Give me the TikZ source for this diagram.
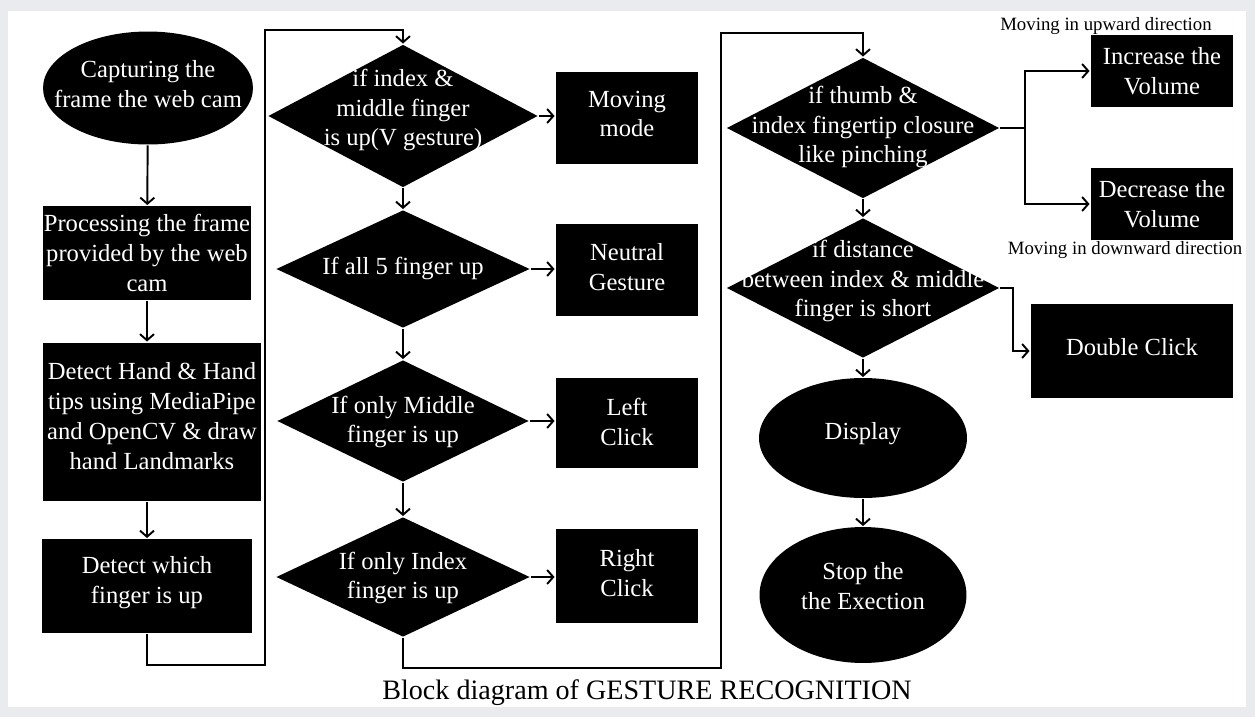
\documentclass[tikz,border=0pt]{standalone}
\usepackage{fontspec}
\setmainfont{Liberation Serif}
\usetikzlibrary{arrows,arrows.meta,shapes.geometric,positioning,calc}
\definecolor{fundo}{RGB}{233,235,238}

\begin{document}
\begin{tikzpicture}[> = {Straight Barb[length=3.5pt,width=8pt]}, x = 0.02cm, y = -0.02cm, line width = 1.1pt]
                       \tikzstyle{bloco}=[rectangle, fill=black, text=white, inner sep=0pt, align=center, font=\fontsize{14}{17}\selectfont]
                       \tikzstyle{oval}=[ellipse, fill=black, inner sep=0pt]
                       \tikzstyle{teste}=[diamond, fill=black, inner sep=0pt]
                       \tikzstyle{texto}=[text=white, inner sep=0pt, align=center, font=\fontsize{14}{17}\selectfont]
                       \tikzstyle{nota}=[inner sep=0pt, font=\fontsize{10.7}{12}\selectfont]

                        % Fundo
                        \useasboundingbox (0,0) rectangle (1255,717);
                        \fill[fundo] (0,0) rectangle (1255,717);
                        \fill[white] (8,11) rectangle (1246,707);

                        % Blocos
                        \node[oval, minimum width=4.2cm, minimum height=2.26cm] (cap) at (148,88) {};
                        \node[texto] (capT) at (148,84) {Capturing the\\frame the web cam};
                        \node[bloco, minimum width=4.18cm, minimum height=1.88cm] (proc) at (147,253) {Processing the frame\\provided by the web\\cam};
                        \node[bloco, minimum width=4.38cm, minimum height=3.18cm] (hand) at (152,422) {};
                        \node[texto] (handT) at (152,416) {Detect Hand \& Hand\\tips using MediaPipe\\and OpenCV \& draw\\hand Landmarks};
                        \node[bloco, minimum width=4.2cm, minimum height=1.88cm] (det) at (147,586) {};
                        \node[texto] (detT) at (147,583) {Detect which\\finger is up};

                        \node[teste, minimum width=5.4cm, minimum height=2.86cm] (d1) at (403,116) {};
                        \node[texto] (d1T) at (403,110) {if index \&\\middle finger\\is up(V gesture)};
                        \node[teste, minimum width=5.08cm, minimum height=2.36cm] (d2) at (403,269) {};
                        \node[texto] (d2T) at (403,268) {If all 5 finger up};
                        \node[teste, minimum width=5.04cm, minimum height=2.44cm] (d3) at (403,421) {};
                        \node[texto] (d3T) at (403,422) {If only Middle\\finger is up};
                        \node[teste, minimum width=5.08cm, minimum height=2.4cm] (d4) at (403,577) {};
                        \node[texto] (d4T) at (403,578) {If only Index\\finger is up};

                        \node[bloco, minimum width=2.86cm, minimum height=1.86cm] (mov) at (627,118) {};
                        \node[texto] (movT) at (627,114) {Moving\\mode};
                        \node[bloco, minimum width=2.86cm, minimum height=1.84cm] (neu) at (627,270) {};
                        \node[texto] (neuT) at (627,267) {Neutral\\Gesture};
                        \node[bloco, minimum width=2.86cm, minimum height=1.82cm] (lft) at (627,423) {};
                        \node[texto] (lftT) at (627,422) {Left\\Click};
                        \node[bloco, minimum width=2.86cm, minimum height=1.88cm] (rgt) at (627,576) {};
                        \node[texto] (rgtT) at (627,573) {Right\\Click};

                        \node[teste, minimum width=5.46cm, minimum height=2.82cm] (d5) at (863,128) {};
                        \node[texto] (d5T) at (863,127) {if thumb \&\\index fingertip closure\\like pinching};
                        \node[teste, minimum width=5.46cm, minimum height=2.8cm] (d6) at (863,288) {};
                        \node[texto] (d6T) at (863,281) {if distance\\between index \& middle\\finger is short};
                        \node[oval, minimum width=4.16cm, minimum height=2.4cm] (disp) at (863,438) {};
                        \node[texto] (dispT) at (863,434) {Display};
                        \node[oval, minimum width=4.14cm, minimum height=2.72cm] (stop) at (863,595) {};
                        \node[texto] (stopT) at (863,586) {Stop the\\the Exection};

                        \node[bloco, minimum width=2.86cm, minimum height=1.44cm] (inc) at (1162,71) {Increase the\\Volume};
                        \node[bloco, minimum width=2.86cm, minimum height=1.46cm] (dec) at (1162,204) {Decrease the\\Volume};
                        \node[bloco, minimum width=4.06cm, minimum height=1.88cm] (dbl) at (1132,351) {};
                        \node[texto] (dblT) at (1132,347) {Double Click};

                        \node[nota] (up) at (1106,26) {Moving in upward direction};
                        \node[nota] (down) at (1125,250) {Moving in downward direction};
                        \node[inner sep=0pt, font=\fontsize{16}{19}\selectfont] (titulo) at (647,693) {Block diagram of GESTURE RECOGNITION};

                        % Ligações
                        \draw[->] (cap) -- (proc);
                        \draw[->] (proc) -- (proc |- hand.north);
                        \draw[->] (hand.south -| det) -- (det);
                        \draw[->] (det.south) -- (det.south |- 0,665) -| (265,30) -| (d1.north);

                        \draw[->] (d1) -- (d2);
                        \draw[->] (d2) -- (d3);
                        \draw[->] (d3) -- (d4);
                        \draw[->] (d1.east) -- (d1.east -| mov.west);
                        \draw[->] (d2.east) -- (d2.east -| neu.west);
                        \draw[->] (d3.east) -- (d3.east -| lft.west);
                        \draw[->] (d4.east) -- (d4.east -| rgt.west);
                        \draw[->] (d4.south) -- (d4.south |- 0,668) -| (721,33) -| (d5.north);

                        \draw[->] (d5) -- (d6);
                        \draw[->] (d6) -- (disp);
                        \draw[->] (disp) -- (stop);
                        \draw[->] (d5.east) -- (1025,128) |- (inc.west);
                        \draw[->] (1025,128) |- (dec.west);
                        \draw[->] (d6.east) -- ++(13,0) |- (dbl.west);
                  \end{tikzpicture}
\end{document}
